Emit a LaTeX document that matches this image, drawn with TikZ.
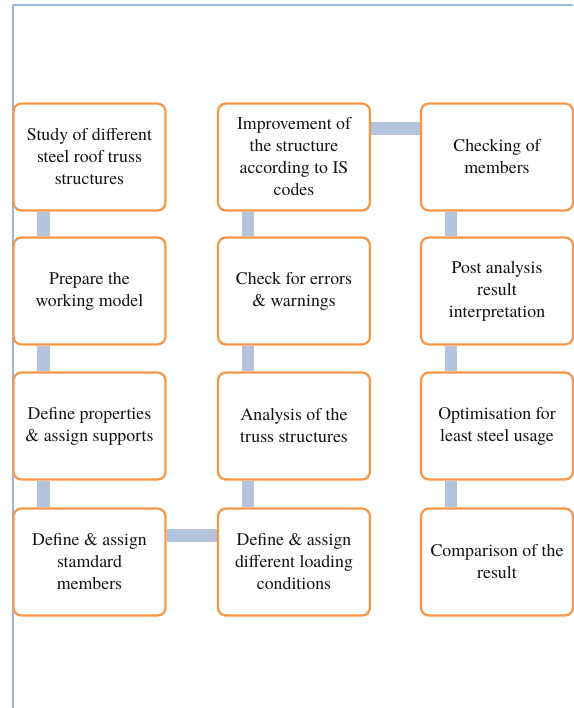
\documentclass[tikz,border=0pt]{standalone}
\usepackage{fontspec}
\setmainfont{texgyretermes}[Extension=.otf, UprightFont=*-regular, BoldFont=*-bold]
\usetikzlibrary{backgrounds}
\definecolor{boxorange}{HTML}{F79646}
\definecolor{connblue}{HTML}{B4C4DF}
\definecolor{framblue}{HTML}{9BB5DC}
\tikzset{
  stepbox/.style={draw=boxorange, line width=2.2pt, fill=white, rounded corners=8pt,
    minimum width=152pt, minimum height=107pt, align=center, inner sep=2pt,
    font=\fontsize{17.8}{22}\selectfont, text=black!92},
  conn/.style={draw=connblue, line width=12.5pt},
  framel/.style={draw=framblue, line width=2pt}
}
\begin{document}
\begin{tikzpicture}[x=1pt,y=-1pt]
\useasboundingbox (0,0) rectangle (573,708);
\coordinate (fa) at (12.5,708);
\coordinate (fb) at (12.5,5.5);
\coordinate (fc) at (573,5.5);
\draw[framel] (fa) -- (fb) -- (fc);
% column 1
\node[stepbox] (a1) at (89.5,157) {Study of different\\steel roof truss\\structures};
\node[stepbox] (a2) at (89.5,291) {Prepare the\\working model};
\node[stepbox] (a3) at (89.5,426) {Define properties\\\& assign supports};
\node[stepbox] (a4) at (89.5,562) {Define \& assign\\stamdard\\members};
% column 2
\node[stepbox] (b1) at (294,157) {Improvement of\\the structure\\according to IS\\codes};
\node[stepbox] (b2) at (294,291) {Check for errors\\\& warnings};
\node[stepbox] (b3) at (294,426) {Analysis of the\\truss structures};
\node[stepbox] (b4) at (294,562) {Define \& assign\\different loading\\conditions};
% column 3
\node[stepbox] (c1) at (497,157) {Checking of\\members};
\node[stepbox] (c2) at (497,291) {Post analysis\\result\\interpretation};
\node[stepbox] (c3) at (497,426) {Optimisation for\\least steel usage};
\node[stepbox] (c4) at (497,562) {Comparison of the\\result};
\begin{scope}[on background layer]
\draw[conn] ([xshift=31pt]a1.south west) -- ([xshift=31pt]a2.north west);
\draw[conn] ([xshift=31pt]a2.south west) -- ([xshift=31pt]a3.north west);
\draw[conn] ([xshift=31pt]a3.south west) -- ([xshift=31pt]a4.north west);
\draw[conn] ([yshift=-28pt]a4.north east) -- ([yshift=-28pt]b4.north west);
\draw[conn] ([xshift=31pt]b4.north west) -- ([xshift=31pt]b3.south west);
\draw[conn] ([xshift=31pt]b3.north west) -- ([xshift=31pt]b2.south west);
\draw[conn] ([xshift=31pt]b2.north west) -- ([xshift=31pt]b1.south west);
\draw[conn] ([yshift=-26pt]b1.north east) -- ([yshift=-26pt]c1.north west);
\draw[conn] ([xshift=31pt]c1.south west) -- ([xshift=31pt]c2.north west);
\draw[conn] ([xshift=31pt]c2.south west) -- ([xshift=31pt]c3.north west);
\draw[conn] ([xshift=31pt]c3.south west) -- ([xshift=31pt]c4.north west);
\end{scope}
\end{tikzpicture}
\end{document}
